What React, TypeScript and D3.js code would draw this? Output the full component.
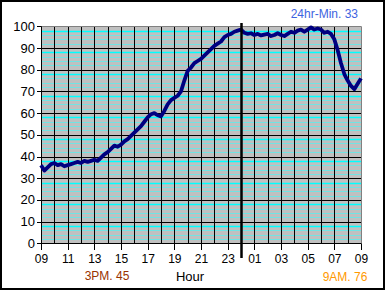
import React from "react";
import * as d3 from "d3";

const hours: number[] = [
  9.0, 9.25, 9.5, 9.75, 10.0, 10.25, 10.5, 10.75, 11.0, 11.25, 11.5, 11.75,
  12.0, 12.25, 12.5, 12.75, 13.0, 13.25, 13.5, 13.75, 14.0, 14.25, 14.5, 14.75,
  15.0, 15.25, 15.5, 15.75, 16.0, 16.25, 16.5, 16.75, 17.0, 17.25, 17.5, 17.75,
  18.0, 18.25, 18.5, 18.75, 19.0, 19.25, 19.5, 19.75, 20.0, 20.25, 20.5, 20.75,
  21.0, 21.25, 21.5, 21.75, 22.0, 22.25, 22.5, 22.75, 23.0, 23.25, 23.5, 23.75,
  24.0, 24.25, 24.5, 24.75, 25.0, 25.25, 25.5, 25.75, 26.0, 26.25, 26.5, 26.75,
  27.0, 27.25, 27.5, 27.75, 28.0, 28.25, 28.5, 28.75, 29.0, 29.25, 29.5, 29.75,
  30.0, 30.25, 30.5, 30.75, 31.0, 31.25, 31.5, 31.75, 32.0, 32.25, 32.5, 32.75,
  33.0,
];

const values: number[] = [
  36, 33.5, 35, 36.5, 37, 36, 36.5, 35.5, 36, 36.5, 37, 37.5,
  37, 38, 37.5, 38, 38.5, 38, 39.5, 41, 42, 43.5, 45, 44.5,
  45.5, 47, 48, 49.5, 51, 52.5, 54, 56, 58, 59.5, 60, 59,
  58.5, 61, 64, 66, 67, 68, 70, 75, 79.5, 81, 83, 84,
  85, 86.5, 88, 89.5, 91, 92, 93, 95, 96, 96.5, 97.5, 98,
  98.5, 97, 96.5, 96.8, 96, 96.5, 95.8, 96.2, 96.5, 95.5, 96, 96.8,
  96, 95.5, 96.5, 97.5, 97, 98, 98.5, 97.5, 98.5, 99.5, 98.5, 99,
  98.5, 97, 97.5, 96.5, 94, 89, 83, 78, 75, 72.5, 71, 73.5,
  76,
];

const xTickHours: number[] = [9, 11, 13, 15, 17, 19, 21, 23, 25, 27, 29, 31, 33];
const xTickLabels: string[] = ["09", "11", "13", "15", "17", "19", "21", "23", "01", "03", "05", "07", "09"];
const yTicks: number[] = [0, 10, 20, 30, 40, 50, 60, 70, 80, 90, 100];
const gridHours: number[] = [10, 11, 12, 13, 14, 15, 16, 17, 18, 19, 20, 21, 22, 23, 24, 25, 26, 27, 28, 29, 30, 31, 32];
const minorY: number[] = [2, 4, 6, 8, 12, 14, 16, 18, 22, 24, 26, 28, 32, 34, 36, 38, 42, 44, 46, 48, 52, 54, 56, 58, 62, 64, 66, 68, 72, 74, 76, 78, 82, 84, 86, 88, 92, 94, 96, 98];
const midnightHour = 24;

const titleText = "24hr-Min. 33";
const leftNote = "3PM. 45";
const rightNote = "9AM. 76";
const xTitle = "Hour";

export default function App() {
  const W = 385;
  const H = 290;
  const x = d3.scaleLinear().domain([9, 33]).range([41, 361]);
  const y = d3.scaleLinear().domain([0, 100]).range([243.3, 26.3]);
  const line = d3
    .line<number>()
    .x((_, i) => x(hours[i]))
    .y((d) => y(d))
    .curve(d3.curveLinear);

  const font = "'Liberation Sans', Arial, sans-serif";
  const r = (v: number) => Math.round(v) + 0.5;

  return (
    <svg
      width={W}
      height={H}
      style={{ position: "absolute", left: 0, top: 0, background: "#fff" }}
      fontFamily={font}
    >
      <rect x={1} y={1} width={383} height={288} fill="#fff" stroke="#000" strokeWidth={2} />
      <rect x={x(9)} y={y(100)} width={x(33) - x(9)} height={y(0) - y(100)} fill="#C0C0C0" />
      {minorY.map((v) => (
        <line
          key={"m" + v}
          x1={x(9)}
          x2={x(33)}
          y1={r(y(v))}
          y2={r(y(v))}
          stroke={v % 10 === 8 ? "#00FFFF" : "#70E4E4"}
          strokeWidth={v % 10 === 8 ? 1.6 : 1}
        />
      ))}
      {yTicks
        .filter((v) => v > 0 && v < 100)
        .map((v) => (
          <line key={"h" + v} x1={x(9)} x2={x(33)} y1={r(y(v))} y2={r(y(v))} stroke="#000" strokeWidth={1} />
        ))}
      {gridHours.map((h) => (
        <line key={"v" + h} x1={r(x(h))} x2={r(x(h))} y1={y(100)} y2={y(0)} stroke="#000" strokeWidth={1} />
      ))}
      <line x1={x(9)} x2={x(33)} y1={r(y(100))} y2={r(y(100))} stroke="#808080" strokeWidth={1} />
      <line x1={r(x(33))} x2={r(x(33))} y1={y(100)} y2={y(0)} stroke="#808080" strokeWidth={1} />
      <line x1={r(x(9))} x2={r(x(9))} y1={y(100)} y2={r(y(0))} stroke="#000" strokeWidth={1} />
      <line x1={x(9)} x2={x(33)} y1={r(y(0))} y2={r(y(0))} stroke="#000" strokeWidth={1} />
      {yTicks.map((v) => (
        <g key={"yt" + v}>
          <line x1={37} x2={x(9)} y1={r(y(v))} y2={r(y(v))} stroke="#000" strokeWidth={1} />
          <text x={35} y={y(v) + 4.5} fontSize={13} textAnchor="end" fill="#000">
            {v}
          </text>
        </g>
      ))}
      {xTickHours.map((h, i) => (
        <g key={"xt" + h}>
          <line x1={r(x(h))} x2={r(x(h))} y1={y(0)} y2={250} stroke="#000" strokeWidth={1} />
          <text x={x(h) + 0.5} y={263} fontSize={12} textAnchor="middle" fill="#000">
            {xTickLabels[i]}
          </text>
        </g>
      ))}
      <path d={line(values) || ""} fill="none" stroke="#000080" strokeWidth={3.8} strokeLinejoin="round" />
      <line x1={x(midnightHour) + 0.5} x2={x(midnightHour) + 0.5} y1={23} y2={258} stroke="#000" strokeWidth={2.5} />
      <text x={358} y={18} fontSize={12} textAnchor="end" fill="#3D63E0">
        {titleText}
      </text>
      <text x={107} y={280} fontSize={12} textAnchor="middle" fill="#993300">
        {leftNote}
      </text>
      <text x={190} y={281} fontSize={13} textAnchor="middle" fill="#000">
        {xTitle}
      </text>
      <text x={345} y={281} fontSize={12} textAnchor="middle" fill="#FF9900">
        {rightNote}
      </text>
    </svg>
  );
}
